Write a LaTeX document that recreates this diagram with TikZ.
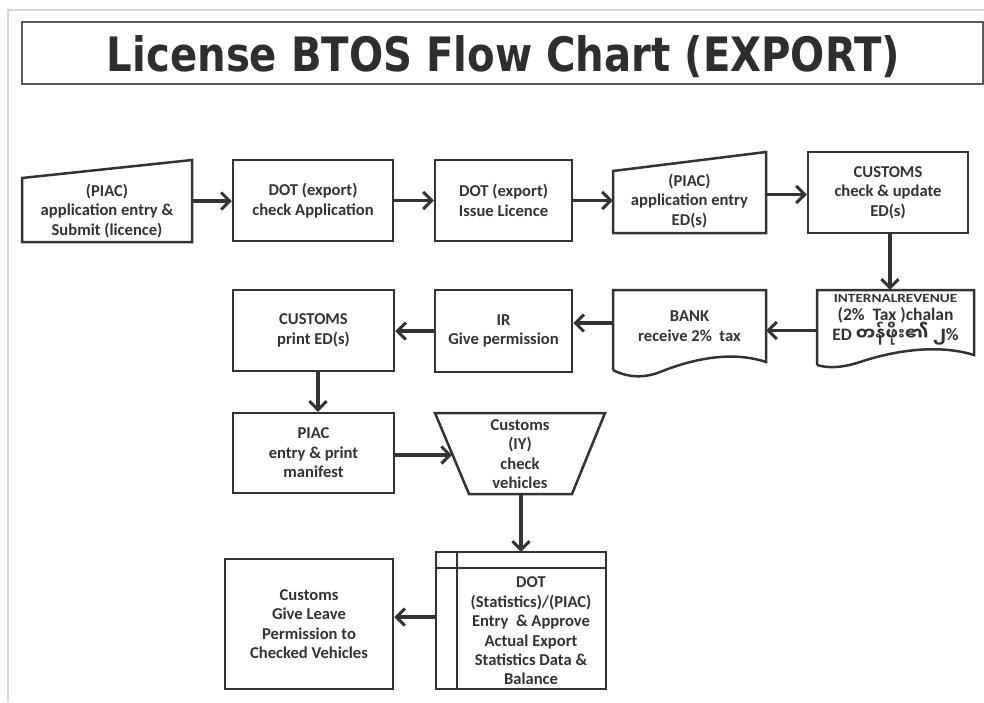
\documentclass[tikz,border=0pt]{standalone}
\usepackage{fontspec}
\setmainfont{Carlito}
\newfontfamily\titlefont{DejaVu Sans}
\newfontfamily\mmfont[Script=Myanmar]{Noto Sans Myanmar UI}
\usetikzlibrary{arrows.meta,calc}
\definecolor{ink}{HTML}{333333}
\definecolor{rule}{HTML}{D8D8D8}
\definecolor{titleline}{HTML}{5A5A5A}

\begin{document}
\begin{tikzpicture}[x=1pt,y=-1pt,color=ink,
  shapeline/.style={line width=2.5pt, line join=miter},
  procbox/.style={draw, shapeline, inner sep=0pt, align=center,
    font=\bfseries\fontsize{16.6}{19.4}\selectfont},
  holder/.style={inner sep=0pt},
  label/.style={inner sep=0pt, align=center,
    font=\bfseries\fontsize{16.6}{19.4}\selectfont},
  flow/.style={line width=3.3pt, line cap=butt,
    -{Straight Barb[length=8.5pt,width=17pt,line width=3pt]}}]

\useasboundingbox (0,0) rectangle (984,702);
\fill[white] (0,0) rectangle (984,702);

% page frame
\draw[rule, line width=2pt] (8,702) -- (8,10) -- (984,10);

% title
\node[draw=titleline, line width=1.6pt, minimum width=961pt, minimum height=62pt,
  inner sep=0pt] (title) at (502.5,53) {};
\node[anchor=base, inner sep=0pt, color=ink!90!black] (titletext) at (503.5,71)
  {\resizebox{793pt}{36pt}{\titlefont\bfseries License BTOS Flow Chart (EXPORT)}};

% ---- row 1 ----
\node[holder, minimum width=170pt, minimum height=82pt] (b1) at (107,201) {};
\draw[shapeline] (22,178) -- (192,160) -- (192,242) -- (22,242) -- cycle;
\node[label] (b1t) at (107,211) {(PIAC)\\application entry \&\\Submit (licence)};

\node[procbox, minimum width=160pt, minimum height=81pt] (b2) at (313,200.5)
  {DOT (export)\\check Application};

\node[procbox, minimum width=137pt, minimum height=81pt] (b3) at (503.5,200.5)
  {DOT (export)\\Issue Licence};

\node[holder, minimum width=153pt, minimum height=81pt] (b4) at (689.5,192.5) {};
\draw[shapeline] (613,171) -- (766,152) -- (766,233) -- (613,233) -- cycle;
\node[label] (b4t) at (689.5,201) {(PIAC)\\application entry\\ED(s)};

\node[procbox, minimum width=160pt, minimum height=81pt] (b5) at (888,192.5)
  {CUSTOMS\\check \& update\\ED(s)};

% ---- row 2 ----
\node[holder, minimum width=157pt, minimum height=77pt] (b6) at (895.5,328.5) {};
\draw[shapeline] (817,365) -- (817,290) -- (974,290) -- (974,355)
  .. controls (935,343) and (890,352) .. (860,362)
  .. controls (845,367) and (830,369) .. (817,365);
\node[label] (b6t) at (895.5,320)
  {{\fontsize{12.5}{14}\selectfont\scalebox{1.22}[1]{INTERNALREVENUE}}\\[-1pt]
   {\fontsize{17.5}{20}\selectfont (2\%\ \ Tax )chalan}\\[-2pt]
   {\fontsize{17.5}{20}\selectfont ED {\mmfont\bfseries တန်ဖိုး၏ ၂}\%}};

\node[holder, minimum width=153pt, minimum height=85pt] (b7) at (689.5,332.5) {};
\draw[shapeline] (613,370) -- (613,290) -- (766,290) -- (766,362)
  .. controls (730,350) and (690,360) .. (660,372)
  .. controls (645,378) and (628,378) .. (613,370);
\node[label] (b7t) at (689.5,326) {BANK\\receive 2\%\ \ tax};

\node[procbox, minimum width=137pt, minimum height=82pt] (b8) at (503.5,331)
  {IR\\Give permission};

\node[procbox, minimum width=161pt, minimum height=81pt] (b9) at (313.5,330.5)
  {CUSTOMS\\print ED(s)};

% ---- row 3 ----
\node[procbox, minimum width=161pt, minimum height=80pt] (b10) at (313.5,453)
  {PIAC\\entry \& print\\manifest};

\node[holder, minimum width=170pt, minimum height=81pt] (b11) at (520,453.5) {};
\coordinate (b11tl) at (435,413);
\coordinate (b11tr) at (605,413);
\coordinate (b11br) at (572,494);
\coordinate (b11bl) at (469,494);
\coordinate (b11ml) at ($(b11tl)!0.5!(b11bl)$);
\draw[shapeline] (b11tl) -- (b11tr) -- (b11br) -- (b11bl) -- cycle;
\node[label] (b11t) at (520,454) {Customs\\(IY)\\check\\vehicles};

% ---- row 4 ----
\node[holder, minimum width=170pt, minimum height=137pt] (b12) at (521,620.5) {};
\draw[shapeline] (436,552) rectangle (606,689);
\draw[shapeline] (457,552) -- (457,689);
\draw[shapeline] (436,568) -- (606,568);
\node[label] (b12t) at (531,631)
  {DOT\\(Statistics)/(PIAC)\\Entry\ \ \& Approve\\Actual Export\\Statistics Data \&\\Balance};

\node[procbox, minimum width=168pt, minimum height=130pt] (b13) at (309,624)
  {Customs\\Give Leave\\Permission to\\Checked Vehicles};

% ---- connectors ----
\draw[flow] (b1.east) -- (b1.east -| b2.west);
\draw[flow] (b2.east) -- (b2.east -| b3.west);
\draw[flow] (b3.east) -- (b3.east -| b4.west);
\draw[flow] ([yshift=-2pt]b4.east) coordinate (a45) -- (a45 -| b5.west);
\draw[flow] ([xshift=2pt]b5.south) coordinate (a56) -- (a56 |- b6.north);
\draw[flow] ([yshift=-2pt]b6.west) coordinate (a67) -- (a67 -| b7.east);
\draw[flow] (b7.west |- 0,323) coordinate (a78) -- (a78 -| b8.east);
\draw[flow] (b8.west) -- (b8.west -| b9.east);
\draw[flow] ([xshift=4.5pt]b9.south) coordinate (a910) -- (a910 |- b10.north);
\draw[flow] ([yshift=-2pt]b10.east) coordinate (a1011) -- (a1011 -| b11ml);
\draw[flow] ([xshift=1pt]b11.south) coordinate (a1112) -- (a1112 |- b12.north);
\draw[flow] (b12.west |- 0,617) coordinate (a1213) -- (a1213 -| b13.east);

\end{tikzpicture}
\end{document}
